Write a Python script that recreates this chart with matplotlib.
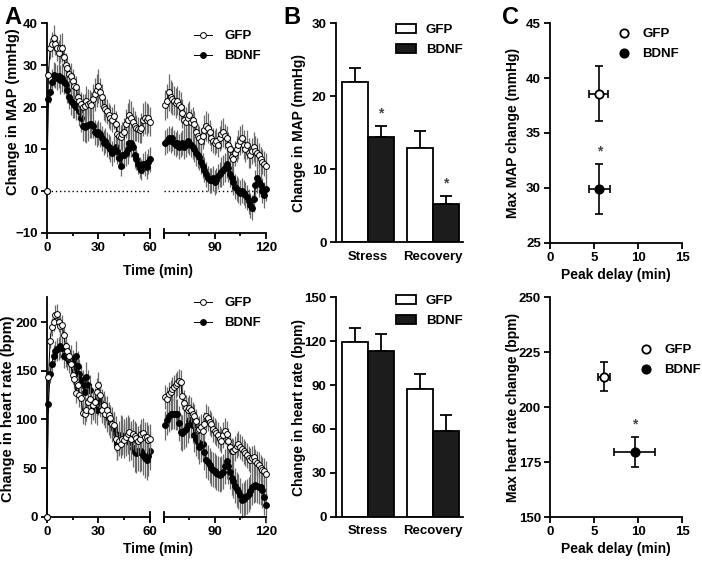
import numpy as np
import matplotlib
matplotlib.use('Agg')
import matplotlib.pyplot as plt
from matplotlib.patches import Patch
from matplotlib.lines import Line2D

plt.rcParams['font.family'] = ['Liberation Sans', 'DejaVu Sans']
plt.rcParams['font.weight'] = 'bold'
plt.rcParams['axes.labelweight'] = 'bold'

# ---------------- data ----------------
time_seg1 = list(range(0, 61))
time_seg2 = list(range(61, 121))

gfp_map_1 = [0, 27.7, 34, 35, 36.5, 35, 34, 33, 34, 34.2,
             32, 30, 29.3, 28, 27.5, 26.2, 25, 24.8, 22.5, 21.5,
             20.7, 20, 20.2, 21.5, 20.8, 21, 20.5, 22, 23, 24,
             25, 23.5, 22.5, 20, 19.5, 19, 18, 17.5, 17, 17.8,
             16, 13.5, 13, 12.8, 13.5, 14, 16, 17, 18, 17.5,
             16.5, 15.5, 15, 14.7, 14.5, 15, 17, 17.5, 17, 17.3, 16.5]
bdnf_map_1 = [0, 22, 23.5, 26, 27.7, 27.5, 27, 27.5, 26.5, 27,
              26, 25.5, 24, 22.5, 21.5, 21, 20.5, 20, 20.5, 19,
              17.5, 15.5, 15.2, 15.5, 15.8, 16, 16, 15.5, 14, 13.5,
              14, 13.5, 12.5, 11.5, 12, 11, 10.5, 10, 9, 10,
              10.5, 9.5, 7.8, 6, 8.5, 8.5, 9, 10, 11.5, 11.5,
              10.5, 8.5, 7.5, 6.5, 5.5, 5, 6.5, 6.5, 5.8, 7, 7.5]
gfp_map_2 = [20.5, 21.5, 23.5, 22.5, 22, 21.5, 21, 21.5, 20.5, 20,
             18.5, 17, 16.5, 17.5, 18, 16.5, 17, 16, 14, 13,
             12.5, 12, 13, 14.5, 15.5, 15, 14, 12.5, 12, 11.5,
             12, 11, 12.5, 13.5, 14, 13, 12.5, 11, 10, 8,
             7.5, 9, 10, 11, 12, 12.5, 11, 10, 11, 9,
             8.5, 9.5, 10.5, 9.5, 9, 8.5, 7.5, 7, 6.5, 6]
bdnf_map_2 = [11.5, 12, 12.5, 12, 12.5, 11.5, 11, 11.5, 10.5, 11,
              11.5, 10.5, 11, 12, 11.5, 11, 10.5, 10, 9, 8.5,
              8, 7, 6, 5, 4, 3, 2.5, 2.5, 3, 2,
              2.5, 3.5, 4, 4.5, 5, 5.5, 6.5, 5.5, 4, 3,
              2, 1, 0.5, 0, -0.5, 0, -0.5, -1, -1.5, -2.5,
              -3.5, -4, -2, 1.5, 3, 2, 1.5, 0, -1, 0.5]

gfp_map_err_1 = [0, 2.0, 2.5, 3.0, 3.0, 2.5, 3.0, 3.0, 3.5, 3.5,
                 3.0, 3.0, 2.5, 2.5, 3.0, 3.0, 3.0, 2.5, 3.0, 3.0,
                 3.0, 3.0, 3.0, 3.5, 3.5, 3.0, 3.0, 3.5, 4.0, 4.0,
                 4.0, 3.5, 3.0, 3.0, 3.0, 3.0, 3.0, 3.0, 3.0, 3.0,
                 3.0, 3.0, 3.0, 3.0, 3.0, 3.5, 3.5, 4.0, 4.0, 4.0,
                 3.5, 3.5, 3.0, 3.0, 3.0, 3.5, 4.0, 4.0, 4.0, 3.5, 3.5]
bdnf_map_err_1 = [0, 2.0, 2.5, 3.0, 3.0, 3.0, 3.0, 3.0, 3.5, 3.5,
                  3.0, 3.0, 3.0, 3.0, 3.5, 3.5, 3.0, 3.0, 3.5, 3.5,
                  3.5, 3.5, 3.5, 4.0, 4.0, 3.5, 3.5, 3.0, 3.0, 3.0,
                  3.0, 3.0, 3.0, 3.0, 3.0, 3.0, 3.0, 3.0, 3.0, 3.0,
                  3.0, 3.0, 2.5, 2.5, 3.0, 3.0, 3.0, 3.5, 3.5, 3.5,
                  3.0, 3.0, 2.5, 2.5, 2.5, 2.5, 2.5, 3.0, 3.0, 3.0, 3.0]
gfp_map_err_2 = [3.5, 4.0, 4.5, 4.0, 4.0, 3.5, 3.5, 3.5, 3.5, 3.5,
                 3.5, 3.5, 3.5, 3.5, 3.5, 3.0, 3.0, 3.0, 3.0, 3.0,
                 3.0, 3.0, 3.0, 3.5, 3.5, 3.5, 3.0, 3.0, 3.0, 3.0,
                 3.0, 3.0, 3.0, 3.5, 3.5, 3.0, 3.0, 3.0, 3.0, 3.0,
                 3.0, 3.0, 3.0, 3.5, 3.5, 3.5, 3.5, 3.0, 3.5, 3.5,
                 3.0, 3.0, 3.5, 3.5, 3.5, 3.0, 3.0, 3.0, 3.0, 3.0]
bdnf_map_err_2 = [3.0, 3.0, 3.0, 3.0, 3.0, 3.0, 3.0, 3.0, 3.0, 3.0,
                  3.0, 3.0, 3.0, 3.0, 3.0, 3.0, 3.0, 3.0, 3.0, 3.0,
                  3.0, 3.0, 3.0, 3.0, 3.0, 3.0, 3.0, 3.0, 3.0, 3.0,
                  3.0, 3.0, 3.0, 3.5, 3.5, 3.5, 3.5, 3.5, 3.0, 3.0,
                  3.0, 3.0, 3.0, 3.0, 3.0, 3.0, 3.0, 3.0, 3.0, 3.0,
                  3.0, 3.0, 3.0, 3.5, 3.5, 3.5, 3.0, 3.0, 3.0, 3.0]

gfp_hr_1 = [0, 143, 181, 195, 200, 207, 208, 200, 196, 197,
            187, 175, 170, 165, 157, 146, 141, 127, 135, 125,
            122, 107, 106, 110, 118, 121, 109, 115, 118, 128,
            135, 125, 110, 115, 105, 110, 104, 101, 95, 94,
            80, 72, 78, 75, 80, 79, 82, 85, 87, 80,
            85, 83, 81, 78, 80, 85, 86, 82, 82, 79, 80]
bdnf_hr_1 = [0, 116, 147, 157, 165, 170, 172, 173, 175, 173,
             165, 166, 163, 160, 162, 157, 150, 165, 155, 147,
             140, 135, 128, 143, 135, 130, 120, 115, 112, 110,
             120, 118, 115, 110, 108, 103, 100, 97, 95, 90,
             85, 76, 80, 84, 83, 80, 82, 84, 77, 78,
             71, 66, 65, 67, 66, 67, 63, 60, 58, 62, 68]
gfp_hr_2 = [123, 121, 126, 128, 131, 133, 135, 137, 139, 138,
            124, 117, 112, 110, 112, 110, 105, 103, 98, 89,
            90, 92, 88, 95, 103, 101, 97, 95, 90, 88,
            86, 84, 80, 78, 84, 88, 85, 78, 72, 68,
            67, 70, 73, 75, 72, 70, 67, 65, 63, 60,
            58, 60, 61, 57, 55, 53, 50, 48, 47, 44]
bdnf_hr_2 = [94, 99, 103, 105, 106, 106, 105, 105, 96, 87,
             86, 88, 90, 94, 99, 99, 94, 84, 80, 77,
             72, 74, 75, 66, 58, 56, 53, 50, 48, 47,
             45, 44, 43, 44, 46, 52, 57, 52, 46, 40,
             37, 32, 28, 26, 22, 17, 18, 20, 21, 23,
             26, 30, 32, 33, 32, 31, 30, 27, 20, 12]

gfp_hr_err_1 = [0, 6, 8, 9, 9, 10, 10, 10, 10, 10,
                10, 10, 9, 9, 10, 10, 10, 10, 12, 12,
                12, 12, 12, 12, 14, 14, 14, 14, 14, 14,
                14, 14, 14, 14, 14, 14, 14, 14, 14, 14,
                14, 14, 14, 15, 15, 15, 15, 15, 15, 15,
                15, 15, 15, 15, 15, 15, 15, 15, 15, 15, 15]
bdnf_hr_err_1 = [0, 8, 10, 10, 11, 11, 12, 12, 12, 12,
                 12, 12, 12, 12, 14, 14, 14, 15, 15, 15,
                 15, 16, 16, 16, 16, 16, 16, 16, 16, 16,
                 16, 16, 16, 16, 16, 16, 16, 16, 18, 18,
                 18, 18, 18, 20, 20, 20, 20, 20, 20, 20,
                 20, 20, 20, 20, 20, 20, 20, 20, 20, 20, 20]
gfp_hr_err_2 = [12, 12, 12, 12, 12, 13, 13, 13, 13, 13,
                13, 13, 13, 13, 13, 13, 13, 13, 13, 13,
                13, 13, 13, 13, 13, 13, 13, 13, 13, 13,
                13, 13, 13, 13, 13, 13, 13, 13, 13, 13,
                13, 13, 13, 13, 13, 13, 13, 13, 13, 13,
                13, 13, 13, 13, 13, 13, 13, 13, 13, 13]
bdnf_hr_err_2 = [15, 15, 16, 16, 16, 16, 16, 16, 18, 18,
                 18, 18, 18, 18, 18, 18, 18, 18, 18, 18,
                 18, 18, 18, 18, 18, 18, 18, 18, 18, 18,
                 18, 18, 18, 18, 18, 18, 18, 18, 18, 18,
                 18, 18, 18, 18, 18, 18, 18, 18, 18, 18,
                 18, 18, 18, 18, 18, 18, 18, 18, 18, 18]

categories = ['Stress', 'Recovery']
bar_map_gfp = [22.0, 12.9]
bar_map_gfp_err = [1.9, 2.4]
bar_map_bdnf = [14.4, 5.3]
bar_map_bdnf_err = [1.5, 1.0]
bar_hr_gfp = [119.5, 87.0]
bar_hr_gfp_err = [9.5, 10.7]
bar_hr_bdnf = [113.5, 58.3]
bar_hr_bdnf_err = [11.4, 11.2]

peak_delay_map = [5.5, 5.6]
peak_delay_map_err = [1.05, 1.2]
max_map = [38.6, 29.9]
max_map_err = [2.55, 2.3]
peak_delay_hr = [6.1, 9.6]
peak_delay_hr_err = [0.7, 2.3]
max_hr = [214.0, 179.7]
max_hr_err = [6.7, 6.7]
groups = ['GFP', 'BDNF']

# ---------------- figure ----------------
W, H = 702, 561
fig = plt.figure(figsize=(W / 100, H / 100), dpi=100)

TICK_FS = 9.5
XLABEL_FS = 10
LEG_FS = 9.5
LW = 1.3
ERR_GRAY = '#6a6a6a'


def add_ax(x0, y0, x1, y1):
    return fig.add_axes([x0 / W, 1 - y1 / H, (x1 - x0) / W, (y1 - y0) / H])


def style(ax):
    for s in ['top', 'right']:
        ax.spines[s].set_visible(False)
    for s in ['left', 'bottom']:
        ax.spines[s].set_linewidth(LW)
    ax.tick_params(width=LW, length=4, labelsize=TICK_FS, direction='out', pad=2.5)
    ax.tick_params(which='minor', width=LW, length=2.5)
    for lab in ax.get_xticklabels() + ax.get_yticklabels():
        lab.set_fontweight('bold')


def draw_series(ax, t, y, e, filled, z):
    ax.errorbar(t, y, yerr=e, fmt='none', ecolor=ERR_GRAY, elinewidth=0.9,
                capsize=0, zorder=z, clip_on=False)
    ax.plot(t, y, '-', color='black', lw=0.7, marker='o', ms=4.2,
            mfc='black' if filled else 'white', mec='black', mew=0.7,
            zorder=z + 1, clip_on=False)


def time_panel(y0, y1, ylim, yticks, data, ylabel, dotted, label_pos):
    (g1, b1, g2, b2, ge1, be1, ge2, be2) = data
    a1 = add_ax(46.7, y0, 150.0, y1)
    a2 = add_ax(163.7, y0, 265.7, y1)
    for ax in (a1, a2):
        ax.set_ylim(*ylim)
        style(ax)
        if dotted:
            ax.axhline(0, color='black', lw=1.0, ls=(0, (1, 2)), zorder=0)
    draw_series(a1, time_seg1, b1, be1, True, 2)
    draw_series(a1, time_seg1, g1, ge1, False, 4)
    draw_series(a2, time_seg2, b2, be2, True, 2)
    draw_series(a2, time_seg2, g2, ge2, False, 4)
    a1.set_xlim(0, 60)
    a2.set_xlim(60, 120)
    a1.set_xticks([0, 30, 60])
    a1.set_xticks([15, 45], minor=True)
    a2.set_xticks([60, 90, 120])
    a2.set_xticklabels(['', '90', '120'])
    a2.set_xticks([75, 105], minor=True)
    a1.set_yticks(yticks)
    a2.spines['left'].set_visible(False)
    a2.tick_params(axis='y', left=False, labelleft=False)
    for ax in (a1, a2):
        for lab in ax.get_xticklabels() + ax.get_yticklabels():
            lab.set_fontweight('bold')
    # break marks
    a1.plot([1, 1], [-0.02, 0.02], transform=a1.transAxes, color='black',
            lw=LW, clip_on=False)
    a2.plot([0, 0], [-0.02, 0.02], transform=a2.transAxes, color='black',
            lw=LW, clip_on=False)
    a1.set_ylabel(ylabel, fontsize=10.5, fontweight='bold')
    a1.yaxis.set_label_coords(*label_pos)
    return a1, a2


h_gfp = Line2D([], [], color='black', lw=0.7, marker='o', ms=4.2, mfc='white', mec='black', mew=0.7)
h_bdnf = Line2D([], [], color='black', lw=0.7, marker='o', ms=4.2, mfc='black', mec='black', mew=0.7)


def line_legend(ax, top_px):
    ax.legend([h_gfp, h_bdnf], groups, loc='upper left',
              bbox_to_anchor=(194 / W, 1 - top_px / H),
              bbox_transform=fig.transFigure, frameon=False, handlelength=1.4,
              handletextpad=0.9, labelspacing=0.6, borderpad=0, borderaxespad=0,
              prop={'size': LEG_FS, 'weight': 'bold'})


# Panel A top
a1, a2 = time_panel(23.3, 232.7, (-10, 40), [-10, 0, 10, 20, 30, 40],
                    (gfp_map_1, bdnf_map_1, gfp_map_2, bdnf_map_2,
                     gfp_map_err_1, bdnf_map_err_1, gfp_map_err_2, bdnf_map_err_2),
                    'Change in MAP (mmHg)', True, (-0.26, 0.58))
fig.text(158 / W, 1 - 271 / H, 'Time (min)', ha='center', va='center',
         fontsize=XLABEL_FS, fontweight='bold')
line_legend(a2, 30)

# Panel A bottom
b1, b2 = time_panel(296.7, 516.7, (0, 226), [0, 50, 100, 150, 200],
                    (gfp_hr_1, bdnf_hr_1, gfp_hr_2, bdnf_hr_2,
                     gfp_hr_err_1, bdnf_hr_err_1, gfp_hr_err_2, bdnf_hr_err_2),
                    'Change in heart rate (bpm)', False, (-0.305, 0.49))
fig.text(158 / W, 1 - 549 / H, 'Time (min)', ha='center', va='center',
         fontsize=XLABEL_FS, fontweight='bold')
line_legend(b2, 297)


# Panel B
def bar_panel(y0, y1, ylim, yticks, g, ge, b, be, ylabel, stars, leg_y):
    ax = add_ax(335.7, y0, 463.0, y1)
    x = np.arange(len(categories))
    w = 0.4
    ax.bar(x - w / 2, g, w, color='white', edgecolor='black', lw=LW, zorder=2)
    ax.bar(x + w / 2, b, w, color='#1c1c1c', edgecolor='black', lw=LW, zorder=2)
    ax.errorbar(x - w / 2, g, yerr=[np.zeros(len(g)), ge], fmt='none',
                ecolor='black', elinewidth=LW, capsize=4.5, capthick=LW, zorder=1)
    ax.errorbar(x + w / 2, b, yerr=[np.zeros(len(b)), be], fmt='none',
                ecolor='black', elinewidth=LW, capsize=4.5, capthick=LW, zorder=1)
    for i, s in enumerate(stars):
        if s:
            ax.text(x[i] + w / 2, b[i] + be[i] + (ylim[1] - ylim[0]) * 0.025, '*',
                    ha='center', va='bottom', fontsize=10, color='#444444')
    ax.set_xlim(-0.5, 1.46)
    ax.set_ylim(*ylim)
    ax.set_yticks(yticks)
    ax.set_xticks(x)
    ax.set_xticklabels(categories)
    style(ax)
    ax.tick_params(axis='x', length=0, pad=6)
    ax.set_ylabel(ylabel, fontsize=10, fontweight='bold')
    ax.yaxis.set_label_coords(-0.235, 0.5)
    handles = [Patch(facecolor='white', edgecolor='black', lw=LW),
               Patch(facecolor='#1c1c1c', edgecolor='black', lw=LW)]
    ax.legend(handles, groups, loc='upper left', bbox_to_anchor=(396 / W, 1 - leg_y / H),
              bbox_transform=fig.transFigure, frameon=False, handlelength=1.5,
              handleheight=0.65, handletextpad=0.75, labelspacing=0.6, borderpad=0,
              borderaxespad=0, prop={'size': LEG_FS, 'weight': 'bold'})
    return ax


bar_panel(23.3, 242.3, (0, 30), [0, 10, 20, 30], bar_map_gfp, bar_map_gfp_err,
          bar_map_bdnf, bar_map_bdnf_err, 'Change in MAP (mmHg)', [True, True], 24)
bar_panel(297.3, 516.7, (0, 150), [0, 30, 60, 90, 120, 150], bar_hr_gfp, bar_hr_gfp_err,
          bar_hr_bdnf, bar_hr_bdnf_err, 'Change in heart rate (bpm)', [False, False], 295)


# Panel C
def scatter_panel(y0, y1, ylim, yticks, xs, xe, ys, ye, ylabel, leg_x, leg_y):
    ax = add_ax(550.0, y0, 682.3, y1)
    fills = ['white', 'black']
    hs = []
    for i in range(2):
        ax.errorbar(xs[i], ys[i], xerr=xe[i], yerr=ye[i], fmt='none', ecolor='black',
                    elinewidth=1.2, capsize=2.7, capthick=1.2, zorder=1)
        h, = ax.plot(xs[i], ys[i], 'o', ms=6, mfc=fills[i], mec='black', mew=1.3,
                     zorder=3, ls='none')
        hs.append(h)
    ax.text(xs[1], ys[1] + ye[1] + (ylim[1] - ylim[0]) * 0.025, '*', ha='center',
            va='bottom', fontsize=10, color='#444444')
    ax.set_xlim(0, 15)
    ax.set_ylim(*ylim)
    ax.set_xticks([0, 5, 10, 15])
    ax.set_yticks(yticks)
    style(ax)
    ax.set_ylabel(ylabel, fontsize=10, fontweight='bold')
    ax.yaxis.set_label_coords(-0.225, 0.5)
    ax.set_xlabel('Peak delay (min)', fontsize=XLABEL_FS, fontweight='bold', labelpad=3)
    ax.legend(hs, groups, loc='upper left', bbox_to_anchor=(leg_x / W, 1 - leg_y / H),
              bbox_transform=fig.transFigure, frameon=False, handlelength=1.0,
              handletextpad=0.9, labelspacing=0.6, borderpad=0, borderaxespad=0,
              prop={'size': LEG_FS, 'weight': 'bold'})
    return ax


scatter_panel(23.3, 242.7, (25, 45), [25, 30, 35, 40, 45], peak_delay_map,
              peak_delay_map_err, max_map, max_map_err, 'Max MAP change (mmHg)', 617, 28)
scatter_panel(297.3, 517.3, (150, 250), [150, 175, 200, 225, 250], peak_delay_hr,
              peak_delay_hr_err, max_hr, max_hr_err, 'Max heart rate change (bpm)', 639, 344)

# panel letters
for letter, x in [('A', 4), ('B', 283), ('C', 502)]:
    fig.text(x / W, 1 - 6 / H, letter, ha='left', va='top', fontsize=17, fontweight='bold')

fig.savefig('out.png', dpi=100)
